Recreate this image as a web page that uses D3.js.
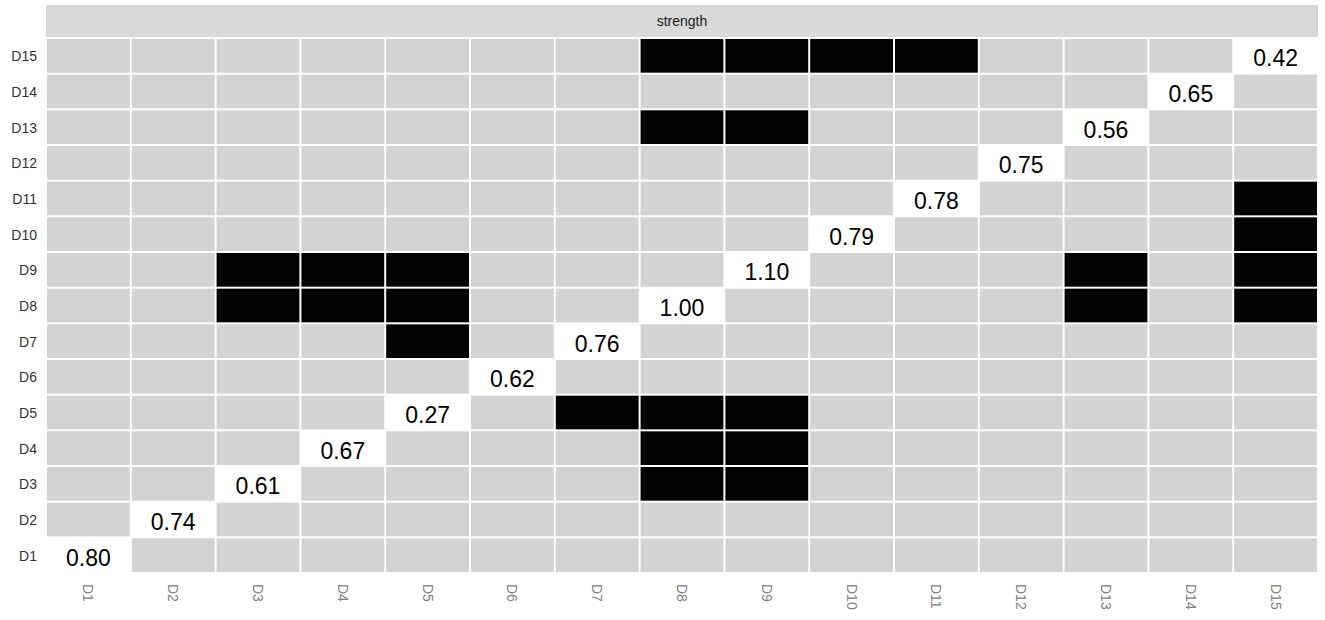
<!DOCTYPE html>
<html>
<head>
<meta charset="utf-8">
<script src="https://cdn.jsdelivr.net/npm/d3@7"></script>
<style>
  body { margin: 0; background: #fff; }
</style>
</head>
<body>
<div id="chart"></div>
<script>
var categories = ['D1','D2','D3','D4','D5','D6','D7','D8','D9','D10','D11','D12','D13','D14','D15'];
var diagValues = [0.80, 0.74, 0.61, 0.67, 0.27, 0.62, 0.76, 1.00, 1.10, 0.79, 0.78, 0.75, 0.56, 0.65, 0.42];
// black cells: [row, column]
var blackCells = [
  ['D15','D8'], ['D15','D9'], ['D15','D10'], ['D15','D11'],
  ['D13','D8'], ['D13','D9'],
  ['D11','D15'], ['D10','D15'],
  ['D9','D3'], ['D9','D4'], ['D9','D5'], ['D9','D13'], ['D9','D15'],
  ['D8','D3'], ['D8','D4'], ['D8','D5'], ['D8','D13'], ['D8','D15'],
  ['D7','D5'],
  ['D5','D7'], ['D5','D8'], ['D5','D9'],
  ['D4','D8'], ['D4','D9'],
  ['D3','D8'], ['D3','D9']
];
var stripLabel = 'strength';

var width = 1325, height = 620;
var margin = { top: 38, right: 7, bottom: 47, left: 46 };

var svg = d3.select('#chart').append('svg')
  .attr('width', width)
  .attr('height', height);

var x = d3.scaleBand().domain(categories).range([margin.left, width - margin.right]).padding(0);
var y = d3.scaleBand().domain(categories).range([height - margin.bottom, margin.top]).padding(0);

// strip
svg.append('rect')
  .attr('x', margin.left).attr('y', 5)
  .attr('width', width - margin.right - margin.left).attr('height', margin.top - 6)
  .attr('fill', '#d9d9d9');
svg.append('text')
  .attr('x', (margin.left + width - margin.right) / 2).attr('y', 26)
  .attr('text-anchor', 'middle')
  .style('font-family', 'Arial, Liberation Sans, sans-serif')
  .style('font-size', '14px')
  .attr('fill', '#1a1a1a')
  .text(stripLabel);

var blackSet = new Set(blackCells.map(function (d) { return d[0] + '|' + d[1]; }));
var cells = [];
categories.forEach(function (r) {
  categories.forEach(function (c) {
    var type = r === c ? 'diag' : (blackSet.has(r + '|' + c) ? 'black' : 'grey');
    cells.push({ row: r, col: c, type: type });
  });
});

var fillFor = { diag: '#ffffff', black: '#000000', grey: '#d3d3d3' };

svg.append('g').selectAll('rect.cell')
  .data(cells)
  .enter()
  .append('rect')
  .attr('class', 'cell')
  .attr('x', function (d) { return x(d.col) + 1; })
  .attr('y', function (d) { return y(d.row) + 1; })
  .attr('width', x.bandwidth() - 2)
  .attr('height', y.bandwidth() - 2)
  .attr('fill', function (d) { return fillFor[d.type]; });

// diagonal values
svg.append('g').selectAll('text.val')
  .data(categories)
  .enter()
  .append('text')
  .attr('class', 'val')
  .attr('x', function (d) { return x(d) + x.bandwidth() / 2; })
  .attr('y', function (d) { return y(d) + y.bandwidth() / 2; })
  .attr('dy', '0.45em')
  .attr('text-anchor', 'middle')
  .style('font-family', 'Arial, Liberation Sans, sans-serif')
  .style('font-size', '23px')
  .attr('fill', '#000')
  .text(function (d, i) { return diagValues[i].toFixed(2); });

// y axis labels
svg.append('g').selectAll('text.ylab')
  .data(categories)
  .enter()
  .append('text')
  .attr('class', 'ylab')
  .attr('x', 37)
  .attr('y', function (d) { return y(d) + y.bandwidth() / 2; })
  .attr('dy', '0.4em')
  .attr('text-anchor', 'end')
  .style('font-family', 'Arial, Liberation Sans, sans-serif')
  .style('font-size', '14px')
  .attr('fill', '#333')
  .text(function (d) { return d; });

// x axis labels, rotated
svg.append('g').selectAll('text.xlab')
  .data(categories)
  .enter()
  .append('text')
  .attr('class', 'xlab')
  .attr('transform', function (d) {
    return 'translate(' + (x(d) + x.bandwidth() / 2) + ',' + (height - margin.bottom + 11) + ') rotate(90)';
  })
  .attr('dy', '0.36em')
  .attr('text-anchor', 'start')
  .style('font-family', 'Arial, Liberation Sans, sans-serif')
  .style('font-size', '14px')
  .attr('fill', '#808080')
  .text(function (d) { return d; });
</script>
</body>
</html>
